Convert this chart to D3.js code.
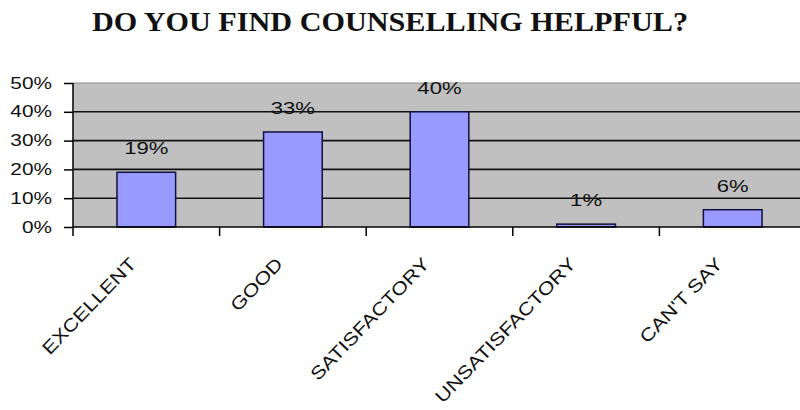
<!DOCTYPE html>
<html>
<head>
<meta charset="utf-8">
<script src="https://cdn.jsdelivr.net/npm/d3@7"></script>
<style>
  html, body { margin: 0; padding: 0; background: #fff; }
  svg { display: block; }
</style>
</head>
<body>
<svg id="chart" width="800" height="410"></svg>
<script>
// Survey responses
const categories = ["EXCELLENT", "GOOD", "SATISFACTORY", "UNSATISFACTORY", "CAN'T SAY"];
const shares = [19, 33, 40, 1, 6];
const yTicks = [0, 10, 20, 30, 40, 50];
const title = "DO YOU FIND COUNSELLING HELPFUL?";

const svg = d3.select("#chart");
const plotLeft = 73, plotRight = 806, plotTop = 83, plotBottom = 227;

const x = d3.scaleBand().domain(categories).range([plotLeft, plotRight]).paddingInner(0).paddingOuter(0);
const y = d3.scaleLinear().domain([0, 50]).range([plotBottom, plotTop]);
const barW = x.bandwidth() * 0.4;

// widen a text element along its baseline by a factor
function stretch(sel, k) {
  sel.each(function () {
    const w = this.getComputedTextLength();
    d3.select(this).attr("textLength", w * k).attr("lengthAdjust", "spacingAndGlyphs");
  });
}

// title
svg.append("text")
  .attr("x", 92).attr("y", 31)
  .attr("font-family", "'Liberation Serif', 'DejaVu Serif', serif")
  .attr("font-weight", "bold")
  .attr("font-size", 28)
  .attr("fill", "#111")
  .text(title)
  .attr("textLength", 596).attr("lengthAdjust", "spacingAndGlyphs");

// plot background
svg.append("rect")
  .attr("x", plotLeft).attr("y", plotTop)
  .attr("width", 800 - plotLeft).attr("height", plotBottom - plotTop)
  .attr("fill", "#c0c0c0");
svg.append("line")
  .attr("x1", plotLeft).attr("x2", 800).attr("y1", plotTop).attr("y2", plotTop)
  .attr("stroke", "#8a8a8a").attr("stroke-width", 1);

// gridlines
svg.append("g").selectAll("line")
  .data(yTicks.filter(d => d > 0 && d < 50))
  .join("line")
  .attr("x1", plotLeft).attr("x2", 800)
  .attr("y1", d => y(d)).attr("y2", d => y(d))
  .attr("stroke", "#111").attr("stroke-width", 1.6);

// bars
svg.append("g").selectAll("rect")
  .data(categories)
  .join("rect")
  .attr("x", (d) => x(d) + (x.bandwidth() - barW) / 2)
  .attr("y", (d, i) => y(shares[i]))
  .attr("width", barW)
  .attr("height", (d, i) => plotBottom - y(shares[i]))
  .attr("fill", "#9999ff")
  .attr("stroke", "#101040").attr("stroke-width", 1.5);

// value labels
svg.append("g").selectAll("text")
  .data(categories)
  .join("text")
  .attr("x", d => x(d) + x.bandwidth() / 2)
  .attr("y", (d, i) => y(shares[i]) - 18)
  .attr("text-anchor", "middle")
  .attr("font-family", "'Liberation Sans', Arial, sans-serif")
  .attr("font-size", 17)
  .attr("fill", "#111")
  .text((d, i) => shares[i] + "%")
  .call(stretch, 1.3);

// y axis
const yAxis = svg.append("g")
  .attr("transform", `translate(${plotLeft},0)`)
  .call(d3.axisLeft(y).tickValues(yTicks).tickFormat(d => d + "%").tickSize(9).tickPadding(12));
yAxis.select(".domain").attr("stroke", "#000").attr("stroke-width", 1.5).attr("d", `M0,${plotTop}V${plotBottom}`);
yAxis.selectAll(".tick line").attr("stroke", "#000").attr("stroke-width", 1.5);
yAxis.selectAll(".tick text")
  .attr("font-family", "'Liberation Sans', Arial, sans-serif")
  .attr("font-size", 16)
  .attr("fill", "#111")
  .call(stretch, 1.3);

// x axis baseline with ticks at category boundaries
svg.append("line")
  .attr("x1", plotLeft).attr("x2", 800).attr("y1", plotBottom).attr("y2", plotBottom)
  .attr("stroke", "#000").attr("stroke-width", 1.5);
svg.append("g").selectAll("line")
  .data(categories)
  .join("line")
  .attr("x1", d => x(d)).attr("x2", d => x(d))
  .attr("y1", plotBottom).attr("y2", plotBottom + 9)
  .attr("stroke", "#000").attr("stroke-width", 1.5);

// rotated category labels
svg.append("g").selectAll("text")
  .data(categories)
  .join("text")
  .attr("transform", d => `translate(${x(d) + x.bandwidth() / 2 - 9},${265}) rotate(-46)`)
  .attr("text-anchor", "end")
  .attr("font-family", "'Liberation Sans', Arial, sans-serif")
  .attr("font-size", 18)
  .attr("fill", "#111")
  .text(d => d)
  .call(stretch, 1.2);
</script>
</body>
</html>
